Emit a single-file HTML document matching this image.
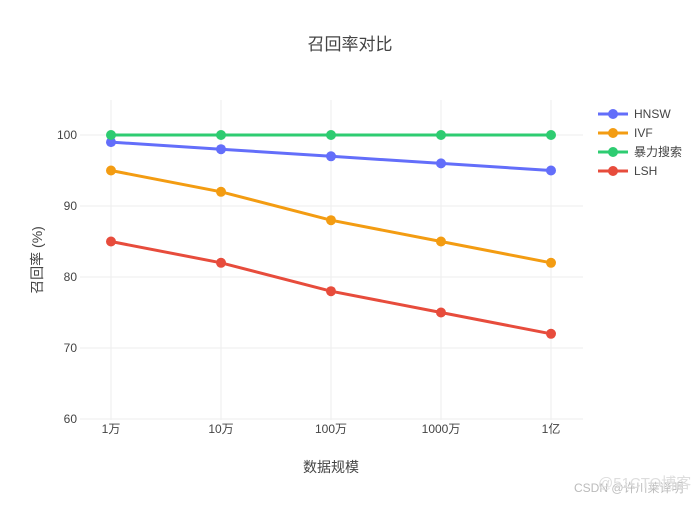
<!DOCTYPE html>
<html><head><meta charset="utf-8"><style>
body{margin:0;background:#fff;}
svg text{font-family:"Liberation Sans","Noto Sans CJK SC",sans-serif;fill:#444;}
</style></head><body>
<svg width="700" height="500" xmlns="http://www.w3.org/2000/svg">
<rect width="700" height="500" fill="#fff"/>
<g stroke="#eee" stroke-width="1">
<line x1="80" x2="583" y1="135" y2="135"/>
<line x1="80" x2="583" y1="206" y2="206"/>
<line x1="80" x2="583" y1="277" y2="277"/>
<line x1="80" x2="583" y1="348" y2="348"/>
<line x1="80" x2="583" y1="419" y2="419"/>
<line x1="111" x2="111" y1="100" y2="420"/>
<line x1="221" x2="221" y1="100" y2="420"/>
<line x1="331" x2="331" y1="100" y2="420"/>
<line x1="441" x2="441" y1="100" y2="420"/>
<line x1="551" x2="551" y1="100" y2="420"/>
</g>
<text x="350" y="50" text-anchor="middle" font-size="17">召回率对比</text>
<g font-size="12" text-anchor="end">
<text x="77" y="139">100</text><text x="77" y="210">90</text><text x="77" y="281">80</text><text x="77" y="352">70</text><text x="77" y="423">60</text>
</g>
<g font-size="12" text-anchor="middle">
<text x="111" y="433">1万</text><text x="221" y="433">10万</text><text x="331" y="433">100万</text><text x="441" y="433">1000万</text><text x="551" y="433">1亿</text>
</g>
<text x="331" y="472" text-anchor="middle" font-size="14">数据规模</text>
<text transform="translate(42,260) rotate(-90)" text-anchor="middle" font-size="14">召回率 (%)</text>
<g stroke-width="3" fill="none">
<polyline stroke="#2ecc71" points="111,135 221,135 331,135 441,135 551,135"/>
<polyline stroke="#636efa" points="111,142.1 221,149.2 331,156.3 441,163.4 551,170.5"/>
<polyline stroke="#f39c12" points="111,170.5 221,191.8 331,220.2 441,241.5 551,262.8"/>
<polyline stroke="#e74c3c" points="111,241.5 221,262.8 331,291.2 441,312.5 551,333.8"/>
</g>
<g fill="#636efa"><circle cx="111" cy="142.1" r="5"/><circle cx="221" cy="149.2" r="5"/><circle cx="331" cy="156.3" r="5"/><circle cx="441" cy="163.4" r="5"/><circle cx="551" cy="170.5" r="5"/></g>
<g fill="#f39c12"><circle cx="111" cy="170.5" r="5"/><circle cx="221" cy="191.8" r="5"/><circle cx="331" cy="220.2" r="5"/><circle cx="441" cy="241.5" r="5"/><circle cx="551" cy="262.8" r="5"/></g>
<g fill="#2ecc71"><circle cx="111" cy="135" r="5"/><circle cx="221" cy="135" r="5"/><circle cx="331" cy="135" r="5"/><circle cx="441" cy="135" r="5"/><circle cx="551" cy="135" r="5"/></g>
<g fill="#e74c3c"><circle cx="111" cy="241.5" r="5"/><circle cx="221" cy="262.8" r="5"/><circle cx="331" cy="291.2" r="5"/><circle cx="441" cy="312.5" r="5"/><circle cx="551" cy="333.8" r="5"/></g>
<g font-size="12">
<line x1="598" x2="628" y1="114" y2="114" stroke="#636efa" stroke-width="3"/><circle cx="613" cy="114" r="5" fill="#636efa"/><text x="634" y="118">HNSW</text>
<line x1="598" x2="628" y1="133" y2="133" stroke="#f39c12" stroke-width="3"/><circle cx="613" cy="133" r="5" fill="#f39c12"/><text x="634" y="137">IVF</text>
<line x1="598" x2="628" y1="152" y2="152" stroke="#2ecc71" stroke-width="3"/><circle cx="613" cy="152" r="5" fill="#2ecc71"/><text x="634" y="156">暴力搜索</text>
<line x1="598" x2="628" y1="171" y2="171" stroke="#e74c3c" stroke-width="3"/><circle cx="613" cy="171" r="5" fill="#e74c3c"/><text x="634" y="175">LSH</text>
</g>
<text x="574" y="492" font-size="12" style="fill:#bbb">CSDN @许川莱译明</text>
<text x="598" y="488" font-size="15" style="fill:#ddd">@51CTO博客</text>
</svg>
</body></html>
